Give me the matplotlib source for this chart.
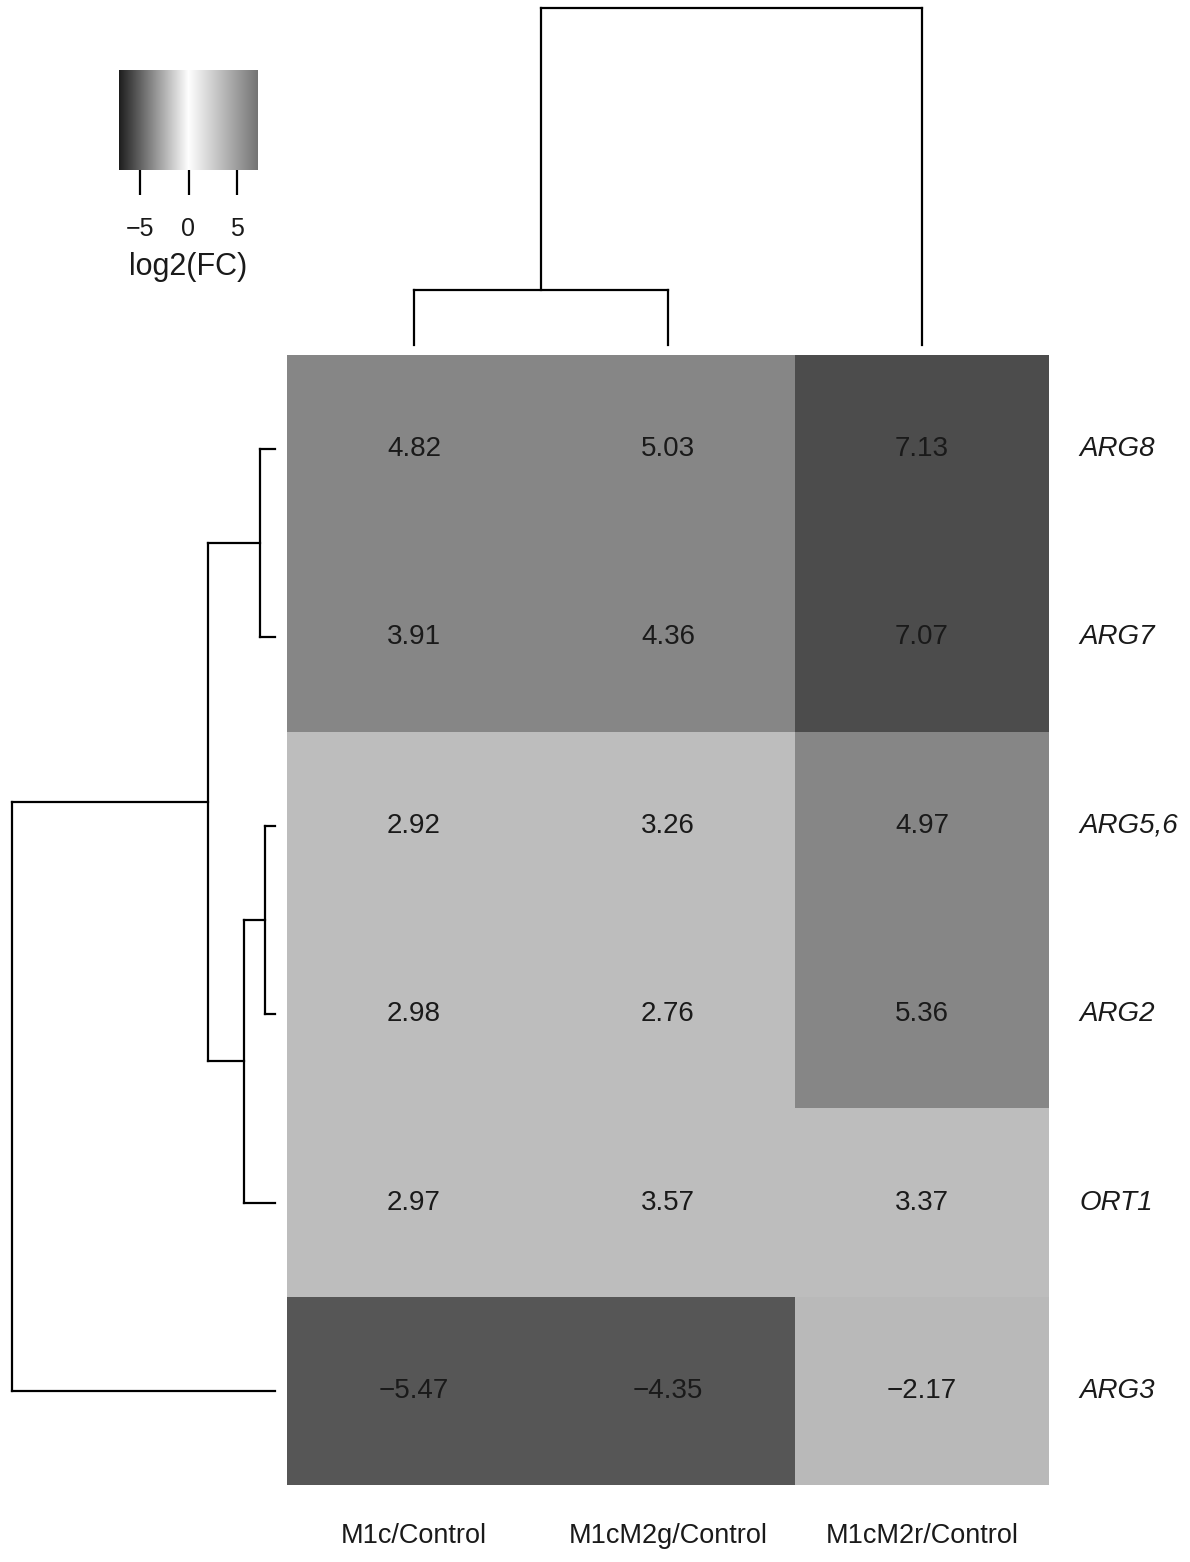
import numpy as np
import matplotlib
matplotlib.use('Agg')
import matplotlib.pyplot as plt
from matplotlib.colors import LinearSegmentedColormap, ListedColormap, BoundaryNorm

plt.rcParams['font.family'] = ['Liberation Sans', 'DejaVu Sans']

# log2 fold changes, rows top to bottom, columns left to right
genes = ['ARG8', 'ARG7', 'ARG5,6', 'ARG2', 'ORT1', 'ARG3']
samples = ['M1c/Control', 'M1cM2g/Control', 'M1cM2r/Control']
m1c = [4.82, 3.91, 2.92, 2.98, 2.97, -5.47]
m1cm2g = [5.03, 4.36, 3.26, 2.76, 3.57, -4.35]
m1cm2r = [7.13, 7.07, 4.97, 5.36, 3.37, -2.17]

# merges as (left id, right id, height); new clusters get ids after the leaves
row_merges = [(0, 1, 15), (2, 3, 10), (7, 4, 31), (6, 8, 67), (9, 5, 263)]
col_merges = [(0, 1, 55), (3, 2, 337)]

# binned grey scale used for the cells
bin_edges = [-7.2, -3.0, 0.0, 2.5, 3.75, 6.0, 7.2]
bin_greys = ['#565656', '#b9b9b9', '#e6e6e6', '#bdbdbd', '#868686', '#4c4c4c']

key_ticks = [-5, 0, 5]

data = np.array([m1c, m1cm2g, m1cm2r]).T
lim = np.abs(data).max()

cell_cmap = ListedColormap(bin_greys)
cell_norm = BoundaryNorm(bin_edges, cell_cmap.N)
key_cmap = LinearSegmentedColormap.from_list(
    'key_gray', [(0.0, '#1e1e1e'), (0.5, '#ffffff'), (1.0, '#747474')])

W, H = 1190, 1562
fig = plt.figure(figsize=(W / 100, H / 100), dpi=100)


def box(x0, y0, x1, y1):
    return [x0 / W, 1 - y1 / H, (x1 - x0) / W, (y1 - y0) / H]


def dendro_lines(merges, n):
    pos = {i: i + 0.5 for i in range(n)}
    hgt = {i: 0.0 for i in range(n)}
    segs = []
    for k, (a, b, h) in enumerate(merges):
        segs.append(((pos[a], hgt[a]), (pos[a], h)))
        segs.append(((pos[b], hgt[b]), (pos[b], h)))
        segs.append(((pos[a], h), (pos[b], h)))
        pos[n + k] = (pos[a] + pos[b]) / 2
        hgt[n + k] = h
    return segs


# heatmap
ax = fig.add_axes(box(287, 355, 1049, 1485))
ax.pcolormesh(data, cmap=cell_cmap, norm=cell_norm)
ax.set_xlim(0, 3)
ax.set_ylim(6, 0)
ax.axis('off')
for i in range(len(genes)):
    for j in range(len(samples)):
        ax.text(j + 0.5, i + 0.5, f'{data[i, j]:.2f}'.replace('-', '\u2212'),
                ha='center', va='center', fontsize=20, color='#1a1a1a')
    ax.text(3.12, i + 0.5, genes[i], ha='left', va='center', fontsize=20,
            style='italic', color='#1a1a1a')
for j, s in enumerate(samples):
    ax.text(j + 0.5, 6.27, s, ha='center', va='center', fontsize=19.5,
            color='#1a1a1a')

# row dendrogram
axr = fig.add_axes(box(12, 355, 275, 1485))
for (x0, y0), (x1, y1) in dendro_lines(row_merges, len(genes)):
    axr.plot([y0, y1], [x0, x1], color='black', lw=1.6, clip_on=False,
             solid_capstyle='projecting')
axr.set_xlim(263, 0)
axr.set_ylim(6, 0)
axr.axis('off')

# column dendrogram
axc = fig.add_axes(box(287, 8, 1049, 345))
for (x0, y0), (x1, y1) in dendro_lines(col_merges, len(samples)):
    axc.plot([x0, x1], [y0, y1], color='black', lw=1.6, clip_on=False,
             solid_capstyle='projecting')
axc.set_xlim(0, 3)
axc.set_ylim(0, 337)
axc.axis('off')

# colour key
axk = fig.add_axes(box(119, 70, 258, 170))
grad = np.linspace(-lim, lim, 256).reshape(1, -1)
axk.imshow(grad, cmap=key_cmap, vmin=-lim, vmax=lim, aspect='auto',
           extent=(-lim, lim, 0, 1))
axk.set_yticks([])
axk.set_xticks(key_ticks)
axk.set_xticklabels([str(t).replace('-', '\u2212') for t in key_ticks],
                    fontsize=18, color='#1a1a1a')
axk.tick_params(axis='x', length=18, width=1.6, pad=16)
axk.set_xlabel('log2(FC)', fontsize=22, color='#1a1a1a', labelpad=8)
for sp in axk.spines.values():
    sp.set_visible(False)

fig.savefig('out.png', dpi=100)
